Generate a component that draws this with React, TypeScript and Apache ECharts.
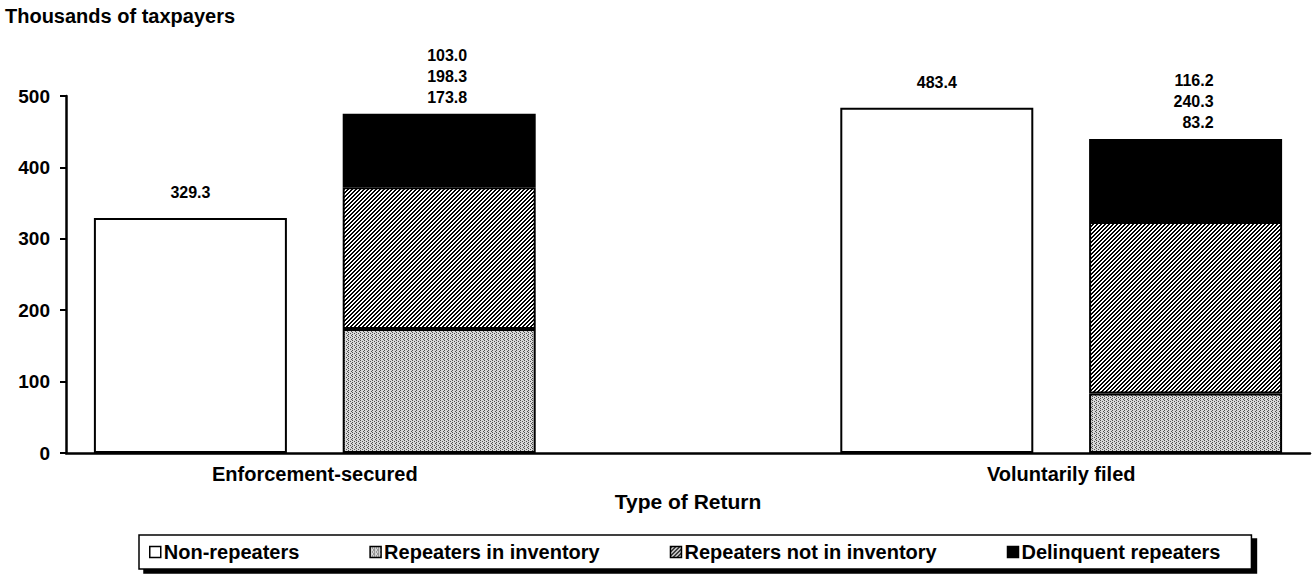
import React, { useEffect, useRef } from "react";
import * as echarts from "echarts";

const categories = ["Enforcement-secured", "Voluntarily filed"];
const nonRepeaters = [329.3, 483.4];
const repeatersInInventory = [173.8, 83.2];
const repeatersNotInInventory = [198.3, 240.3];
const delinquentRepeaters = [103.0, 116.2];
const seriesNames = [
  "Non-repeaters",
  "Repeaters in inventory",
  "Repeaters not in inventory",
  "Delinquent repeaters",
];
const yMin = 0;
const yMax = 500;
const yStep = 100;

// bar slots along the x axis: each category holds a single bar and a stacked bar,
// with an empty slot between the two categories
const slotLayout: ({ cat: number; kind: string } | null)[] = [
  { cat: 0, kind: "non" },
  { cat: 0, kind: "rep" },
  null,
  { cat: 1, kind: "non" },
  { cat: 1, kind: "rep" },
];
const slotKeys = slotLayout.map((s, i) => (s ? `${categories[s.cat]}|${s.kind}` : `gap${i}`));
// category names sit on the boundary between each category's two bars
const labelPoints = ["", categories[0], "", "", categories[1], ""];

const toSlots = (values: number[], kind: string) =>
  slotLayout.map((s) => (s && s.kind === kind ? values[s.cat] : null));

const FONT = 'Arial, "Liberation Sans", Helvetica, sans-serif';

function makeHatch() {
  const c = document.createElement("canvas");
  c.width = 4;
  c.height = 4;
  const ctx = c.getContext("2d")!;
  ctx.fillStyle = "#ffffff";
  ctx.fillRect(0, 0, 4, 4);
  ctx.fillStyle = "#000000";
  for (let x = 0; x < 4; x++)
    for (let y = 0; y < 4; y++) if ((x + y) % 4 < 2) ctx.fillRect(x, y, 1, 1);
  return { image: c, repeat: "repeat", imageWidth: 4, imageHeight: 4 };
}

function makeDots() {
  const c = document.createElement("canvas");
  c.width = 4;
  c.height = 4;
  const ctx = c.getContext("2d")!;
  ctx.fillStyle = "#d8d8d8";
  ctx.fillRect(0, 0, 4, 4);
  ctx.fillStyle = "#505050";
  const pts = [
    [0, 0],
    [2, 1],
    [0, 2],
    [3, 3],
  ];
  pts.forEach(([x, y]) => ctx.fillRect(x, y, 1, 1));
  return { image: c, repeat: "repeat", imageWidth: 4, imageHeight: 4 };
}

export default function App() {
  const ref = useRef<HTMLDivElement>(null);
  useEffect(() => {
    if (!ref.current) return;
    const chart = echarts.init(ref.current, undefined, { renderer: "svg" });
    const hatch = makeHatch();
    const dots = makeDots();
    const border = { borderColor: "#000", borderWidth: 2 };
    const barW = 193;
    const fmt = (v: number) => v.toFixed(1);
    const gridBox = { left: 66, right: 3, top: 96, bottom: 133, containLabel: false };

    const option: any = {
      animation: false,
      backgroundColor: "#fff",
      title: {
        text: "Thousands of taxpayers",
        left: 5,
        top: 6,
        padding: 0,
        textStyle: { fontFamily: FONT, fontSize: 20, fontWeight: "bold", color: "#000" },
      },
      legend: {
        data: seriesNames,
        left: 139,
        top: 535,
        orient: "horizontal",
        padding: [7, 31, 7, 10],
        itemGap: 70,
        itemWidth: 11,
        itemHeight: 11,
        icon: "rect",
        borderColor: "#000",
        borderWidth: 1.5,
        backgroundColor: "#fff",
        shadowColor: "#000",
        shadowBlur: 0,
        shadowOffsetX: 5,
        shadowOffsetY: 4,
        itemStyle: { borderColor: "#000", borderWidth: 1.5 },
        textStyle: { fontFamily: FONT, fontSize: 20, fontWeight: "bold", color: "#000", padding: [0, 0, 0, -2] },
      },
      grid: [{ ...gridBox }, { ...gridBox }],
      xAxis: [
        {
          type: "category",
          gridIndex: 0,
          data: slotKeys,
          show: false,
        },
        {
          type: "category",
          gridIndex: 1,
          data: labelPoints,
          boundaryGap: false,
          axisLine: { show: true, lineStyle: { color: "#000", width: 2.5 } },
          axisTick: { show: false },
          axisLabel: {
            interval: 0,
            fontFamily: FONT,
            fontSize: 20,
            fontWeight: "bold",
            color: "#000",
            margin: 11,
          },
          name: "Type of Return",
          nameLocation: "middle",
          nameGap: 38,
          nameTextStyle: { fontFamily: FONT, fontSize: 21, fontWeight: "bold", color: "#000" },
        },
      ],
      yAxis: [
        { type: "value", gridIndex: 0, min: yMin, max: yMax, interval: yStep, show: false },
        {
          type: "value",
          gridIndex: 1,
          min: yMin,
          max: yMax,
          interval: yStep,
          axisLine: { show: true, lineStyle: { color: "#000", width: 2.5 } },
          axisTick: { show: true, length: 6, lineStyle: { color: "#000", width: 2 } },
          splitLine: { show: false },
          axisLabel: {
            fontFamily: FONT,
            fontSize: 19,
            fontWeight: "bold",
            color: "#000",
            margin: 16,
          },
        },
      ],
      series: [
        {
          name: seriesNames[0],
          type: "bar",
          xAxisIndex: 0,
          yAxisIndex: 0,
          barWidth: barW,
          barGap: "-100%",
          data: toSlots(nonRepeaters, "non"),
          itemStyle: { color: "#fff", ...border },
          label: {
            show: true,
            position: "top",
            distance: 17,
            formatter: (p: any) => fmt(p.value),
            fontFamily: FONT,
            fontSize: 16,
            fontWeight: "bold",
            color: "#000",
          },
        },
        {
          name: seriesNames[1],
          type: "bar",
          stack: "rep",
          xAxisIndex: 0,
          yAxisIndex: 0,
          barWidth: barW,
          barGap: "-100%",
          data: toSlots(repeatersInInventory, "rep"),
          itemStyle: { color: dots, ...border },
        },
        {
          name: seriesNames[2],
          type: "bar",
          stack: "rep",
          xAxisIndex: 0,
          yAxisIndex: 0,
          barWidth: barW,
          barGap: "-100%",
          data: toSlots(repeatersNotInInventory, "rep"),
          itemStyle: { color: hatch, ...border },
        },
        {
          name: seriesNames[3],
          type: "bar",
          stack: "rep",
          xAxisIndex: 0,
          yAxisIndex: 0,
          barWidth: barW,
          barGap: "-100%",
          data: toSlots(delinquentRepeaters, "rep"),
          itemStyle: { color: "#000", ...border },
          label: {
            show: true,
            position: "top",
            distance: 6,
            offset: [5, 0],
            formatter: (p: any) => {
              const s = slotLayout[p.dataIndex];
              if (!s) return "";
              const i = s.cat;
              return [
                `{r|${fmt(delinquentRepeaters[i])}}`,
                `{r|${fmt(repeatersNotInInventory[i])}}`,
                `{r|${fmt(repeatersInInventory[i])}}`,
              ].join("\n");
            },
            rich: {
              r: {
                width: 46,
                align: "right",
                fontFamily: FONT,
                fontSize: 16,
                fontWeight: "bold",
                color: "#000",
                lineHeight: 21,
              },
            },
          },
        },
      ],
    };
    chart.setOption(option);
    return () => chart.dispose();
  }, []);

  return (
    <div
      ref={ref}
      style={{ position: "fixed", left: 0, top: 0, width: 1313, height: 586, background: "#fff" }}
    />
  );
}
